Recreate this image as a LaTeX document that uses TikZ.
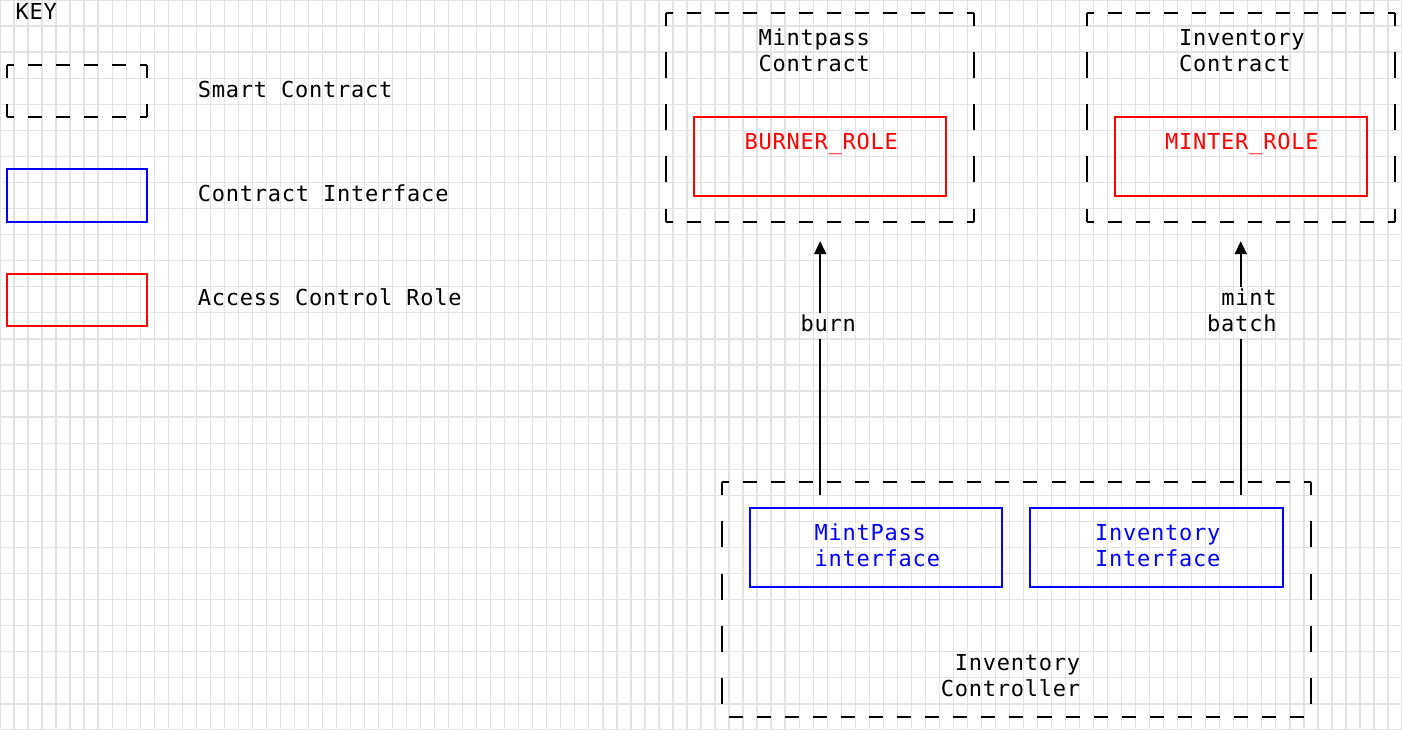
\documentclass[tikz,border=0pt]{standalone}
\usepackage{fontspec}
\newfontfamily\monofont[LetterSpace=3.5]{DejaVu Sans Mono}
\usetikzlibrary{arrows.meta}
\newlength\cellw \setlength\cellw{14.02pt}
\newlength\cellh \setlength\cellh{26.07pt}
\definecolor{gridgray}{RGB}{227,227,227}
\definecolor{rolered}{RGB}{255,0,0}
\definecolor{ifaceblue}{RGB}{0,0,255}
\tikzset{
  grid-line/.style={draw=gridgray, line width=1.3pt},
  cell-text/.style={
    font=\monofont\fontsize{22pt}{26pt}\selectfont,
    inner sep=0pt, outer sep=0pt, anchor=west, xshift=1.5pt,
    minimum height=\cellh, text height=16.5pt, text depth=4.5pt
  },
  box/.style={inner sep=0pt, outer sep=0pt, draw=none},
  iface-box/.style={box, draw=ifaceblue, line width=2pt},
  role-box/.style={box, draw=rolered, line width=2pt},
  h-dash/.style={line width=2pt, dash pattern=on \cellw off \cellw, dash phase=0.5\cellw},
  v-dash/.style={line width=2pt, dash pattern=on \cellh off \cellh, dash phase=0.5\cellh},
  wire/.style={line width=2pt},
  tip/.style={-{Triangle[length=13pt, width=12pt]}}
}
\newcommand{\contractbox}[1]{
  \draw[h-dash] (#1.north west) -- (#1.north east);
  \draw[h-dash] (#1.south west) -- (#1.south east);
  \draw[v-dash] (#1.north west) -- (#1.south west);
  \draw[v-dash] (#1.north east) -- (#1.south east);
}

\begin{document}
\begin{tikzpicture}[x=\cellw, y=-\cellh]
  \useasboundingbox (0,0) rectangle (100,28);

  % background grid
  \foreach \i in {0,...,100} \draw[grid-line] (\i,0) -- (\i,28);
  \foreach \j in {0,...,28} \draw[grid-line] (0,\j) -- (100,\j);

  % Key
  \node[cell-text] (key) at (1,0.5) {KEY};
  \node[box, minimum width=10\cellw, minimum height=2\cellh] (key-contract) at (5.5,3.5) {};
  \contractbox{key-contract}
  \node[cell-text] (key-contract-txt) at (14,3.5) {Smart Contract};
  \node[iface-box, minimum width=10\cellw, minimum height=2\cellh] (key-iface) at (5.5,7.5) {};
  \node[cell-text] (key-iface-txt) at (14,7.5) {Contract Interface};
  \node[role-box, minimum width=10\cellw, minimum height=2\cellh] (key-role) at (5.5,11.5) {};
  \node[cell-text] (key-role-txt) at (14,11.5) {Access Control Role};

  % Mintpass contract
  \node[box, minimum width=22\cellw, minimum height=8\cellh] (mintpass) at (58.5,4.5) {};
  \contractbox{mintpass}
  \node[cell-text] (mintpass-t1) at (54,1.5) {Mintpass};
  \node[cell-text] (mintpass-t2) at (54,2.5) {Contract};
  \node[role-box, minimum width=18\cellw, minimum height=3\cellh] (burner) at (58.5,6) {};
  \node[cell-text, text=rolered] (burner-txt) at (53,5.5) {BURNER\_ROLE};

  % Inventory contract
  \node[box, minimum width=22\cellw, minimum height=8\cellh] (inventory) at (88.5,4.5) {};
  \contractbox{inventory}
  \node[cell-text] (inventory-t1) at (84,1.5) {Inventory};
  \node[cell-text] (inventory-t2) at (84,2.5) {Contract};
  \node[role-box, minimum width=18\cellw, minimum height=3\cellh] (minter) at (88.5,6) {};
  \node[cell-text, text=rolered] (minter-txt) at (83,5.5) {MINTER\_ROLE};

  % Inventory controller
  \node[box, minimum width=42\cellw, minimum height=9\cellh] (ctrl) at (72.5,23) {};
  \draw[h-dash] (ctrl.north west) -- (ctrl.north east);
  \draw[h-dash, dash phase=0pt] ([xshift=0.5\cellw]ctrl.south west) -- ([xshift=-0.5\cellw]ctrl.south east);
  \draw[v-dash] (ctrl.north west) -- (ctrl.south west);
  \draw[v-dash] (ctrl.north east) -- (ctrl.south east);
  \node[iface-box, minimum width=18\cellw, minimum height=3\cellh] (mp-iface) at (62.5,21) {};
  \node[cell-text, text=ifaceblue] (mp-iface-t1) at (58,20.5) {MintPass};
  \node[cell-text, text=ifaceblue] (mp-iface-t2) at (58,21.5) {interface};
  \node[iface-box, minimum width=18\cellw, minimum height=3\cellh] (inv-iface) at (82.5,21) {};
  \node[cell-text, text=ifaceblue] (inv-iface-t1) at (78,20.5) {Inventory};
  \node[cell-text, text=ifaceblue] (inv-iface-t2) at (78,21.5) {Interface};
  \node[cell-text] (ctrl-t1) at (68,25.5) {Inventory};
  \node[cell-text] (ctrl-t2) at (67,26.5) {Controller};

  % calls
  \node[cell-text] (burn) at (57,12.5) {burn};
  \draw[wire] ([yshift=-0.5\cellh]mintpass.south |- ctrl.north) -- (mintpass.south |- burn.south);
  \draw[wire, tip, shorten >=0.75\cellh] (mintpass.south |- burn.north) -- (mintpass.south);

  \node[cell-text] (mint) at (87,11.5) {mint};
  \node[cell-text] (batch) at (86,12.5) {batch};
  \draw[wire] ([yshift=-0.5\cellh]inventory.south |- ctrl.north) -- (inventory.south |- batch.south);
  \draw[wire, tip, shorten >=0.75\cellh] (inventory.south |- mint.north) -- (inventory.south);
\end{tikzpicture}
\end{document}
